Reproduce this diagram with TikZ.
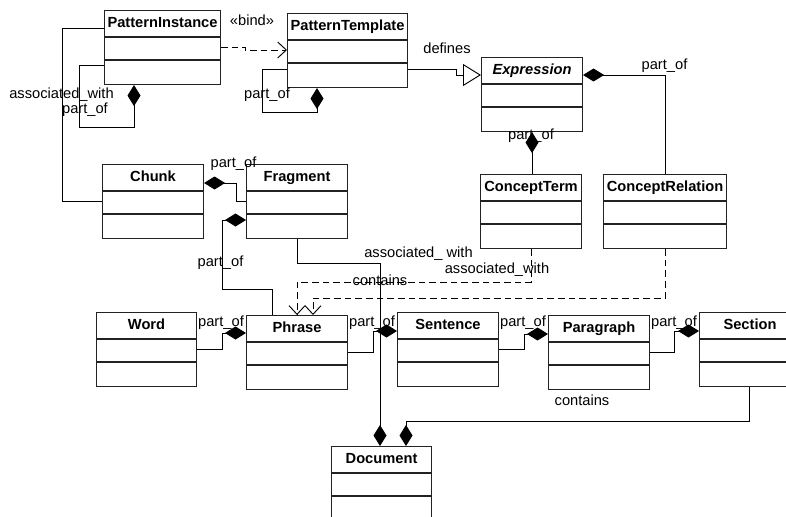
\documentclass[tikz,border=0pt]{standalone}
\usepackage{fontspec}
\setmainfont{Liberation Sans}
\usepackage{tikz}
\usetikzlibrary{calc,arrows.meta}
\definecolor{ink}{HTML}{000000}
\definecolor{frame}{HTML}{222222}
\tikzset{
  cls/.style={draw=frame, line width=0.8pt, anchor=north west, minimum height=55.5pt, inner sep=0pt},
  sep/.style={draw=frame, line width=0.8pt},
  ttl/.style={font=\fontsize{11pt}{13pt}\selectfont\bfseries, inner sep=0pt, text height=8pt, text depth=2.5pt},
  conn/.style={draw=ink, line width=0.7pt},
  dep/.style={conn, dash pattern=on 5pt off 3pt},
  lab/.style={inner sep=0pt, text height=8pt, text depth=2.5pt},
  compend/.style={-{Diamond[length=15.75pt,width=9.75pt]}},
  compstart/.style={{Diamond[length=15.75pt,width=9.75pt]}-},
  gen/.style={-{Triangle[open,length=13.5pt,width=16.5pt]}},
  uses/.style={-{Straight Barb[length=6.5pt,width=12pt]}},
}
\begin{document}
\begin{tikzpicture}[x=0.75pt,y=-0.75pt,font=\fontsize{11pt}{13pt}\selectfont]
  \useasboundingbox[fill=white] (0,0) rectangle (786,517);
  % classes
  \foreach \n/\x/\y/\w/\t in {pi/104/10/116/PatternInstance, pt/287/13/120/PatternTemplate,
      ex/481/57/101/\textit{Expression}, ct/480/174/101/ConceptTerm, cr/603/174/123/ConceptRelation,
      ch/102/164/101/Chunk, fr/246/164/101/Fragment, wd/96/312/100/Word, ph/246/315/101/Phrase,
      se/397/312/101/Sentence, pa/548/315/101/Paragraph, sc/699/312/101/Section, doc/331/446/100/Document}
  {
    \node[cls, minimum width=\w*0.75pt] (\n) at (\x,\y) {};
    \node[ttl] (\n-t) at ($(\n.north)+(0,13.5)$) {\t};
    \draw[sep] ($(\n.north west)+(0,27)$) -- ($(\n.north east)+(0,27)$);
    \draw[sep] ($(\n.north west)+(0,50)$) -- ($(\n.north east)+(0,50)$);
  }
  % connectors
  \draw[conn] ($(pi.north west)+(0,18)$) -| ($(ch.north west)+(-40,37)$) -- ($(ch.north west)+(0,37)$);
  \draw[conn,compend] ($(pi.north west)+(0,55)$) -| ++(-25,62) -| ($(pi.south west)+(30,0)$);
  \draw[dep,uses] ($(pi.north east)+(0,37)$) -| ($(pt.north west)+(-42,37)$) -- ($(pt.north west)+(0,37)$);
  \draw[conn,compend] ($(pt.north west)+(0,56)$) -| ++(-25,43) -| ($(pt.south west)+(30,0)$);
  \draw[conn,gen] ($(pt.north east)+(0,56)$) -| ($(ex.north west)+(-25,18)$) -- ($(ex.north west)+(0,18)$);
  \draw[conn,compstart] ($(ex.north east)+(0,18)$) -| (cr.north);
  \draw[conn,compstart] (ex.south) -- (ex.south |- ct.north);
  \draw[conn,compstart] ($(ch.north east)+(0,19)$) -| ($(fr.north west)+(-10,37)$) -- ($(fr.north west)+(0,37)$);
  \draw[conn,compstart] ($(fr.north west)+(0,56)$) -- ++(-24,0) |- ($(ph.north west)+(26,-26)$) -- ($(ph.north west)+(26,0)$);
  \draw[conn,compend] (fr.south) |- ($(doc.north west)+(49,-183)$) -- ($(doc.north west)+(49,0)$);
  \draw[dep,uses] (ct.south) |- ($(ph.north west)+(51,-33)$) -- ($(ph.north west)+(51,0)$);
  \draw[dep,uses] (cr.south) |- ($(ph.north west)+(67,-17)$) -- ($(ph.north west)+(67,0)$);
  \draw[conn,compstart] ($(ph.north west)+(0,18)$) -- ++(-24,0) |- ($(wd.north east)+(0,37)$);
  \draw[conn,compstart] ($(se.north west)+(0,19)$) -- ++(-24,0) |- ($(ph.north east)+(0,37)$);
  \draw[conn,compstart] ($(pa.north west)+(0,19)$) -- ++(-24,0) |- ($(se.north east)+(0,37)$);
  \draw[conn,compstart] ($(sc.north west)+(0,19)$) -- ++(-25,0) |- ($(pa.north east)+(0,37)$);
  \draw[conn,compend] ($(sc.south west)+(50,0)$) |- ($(doc.north west)+(75,-25)$) -- ($(doc.north west)+(75,0)$);
  % labels
  \foreach \n/\x/\y/\t in {l-pich/61.5/95/associated\_with, l-pipi/85/110/part\_of, l-bind/252/21.5/«bind»,
      l-ptpt/267/95/part\_of, l-def/447/49.5/defines, l-excr/664.5/65.5/part\_of, l-exct/531/136/part\_of,
      l-chfr/233.5/163.5/part\_of, l-frph/220.5/262.5/part\_of, l-frdoc/418.5/253.5/associated\_ with,
      l-ctph/497/269.5/associated\_with, l-cont/380/281.5/contains, l-wdph/221/322.5/part\_of,
      l-phse/372/322.5/part\_of, l-sepa/523/322.5/part\_of, l-pasc/674/322.5/part\_of, l-scdoc/582/401.5/contains}
    \node[lab] (\n) at (\x,\y) {\t};
\end{tikzpicture}
\end{document}
